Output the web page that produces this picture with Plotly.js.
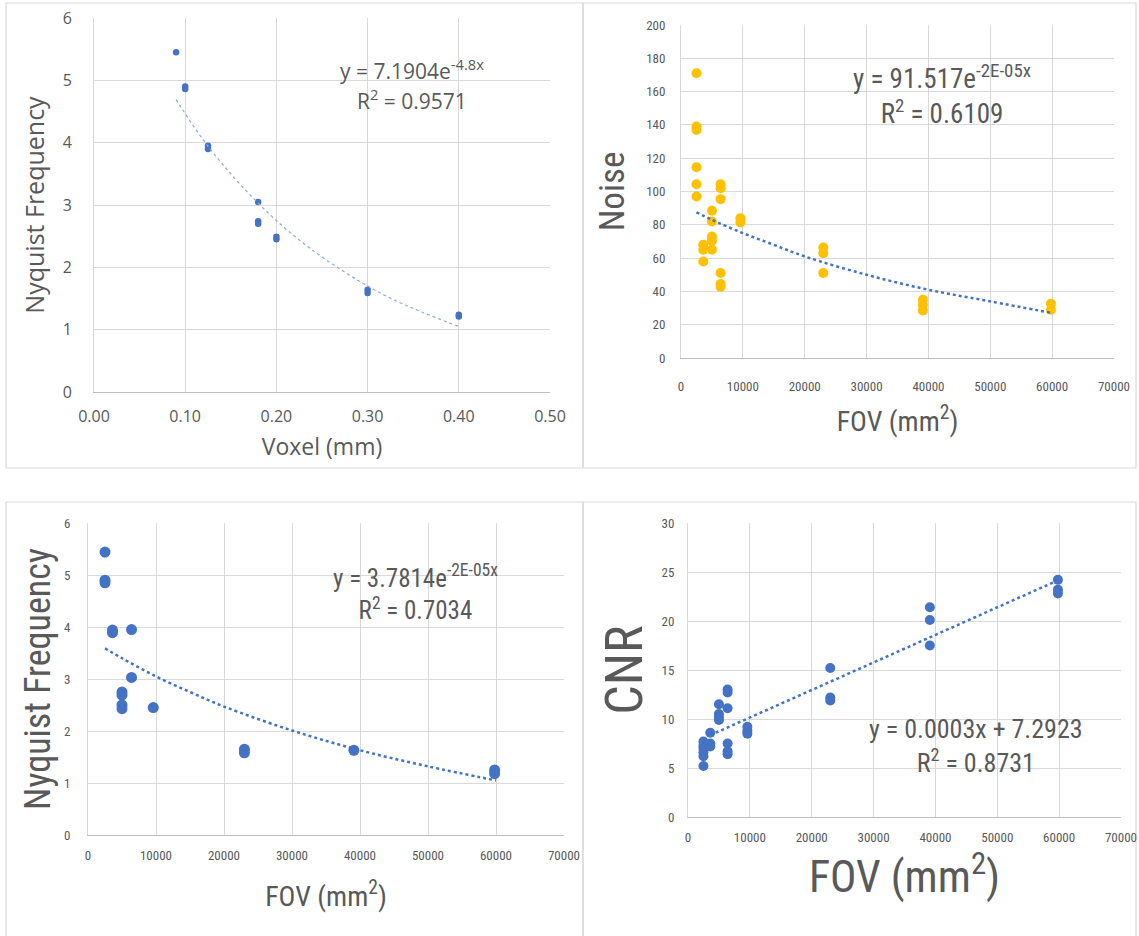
<!DOCTYPE html>
<html>
<head>
<meta charset="utf-8">
<script src="https://cdn.plot.ly/plotly-3.0.1.min.js"></script>
<style>
  html, body { margin: 0; padding: 0; background: #ffffff; }
  #chart { width: 1139px; height: 936px; }
</style>
</head>
<body>
<div id="chart"></div>
<script>
// ---------- Panel A: Nyquist Frequency vs Voxel ----------
const voxelX      = [0.09, 0.10, 0.10, 0.125, 0.125, 0.18, 0.18, 0.18, 0.20, 0.20, 0.30, 0.30, 0.40, 0.40];
const voxelNyq    = [5.45, 4.90, 4.86, 3.95, 3.90, 3.05, 2.74, 2.70, 2.49, 2.45, 1.64, 1.59, 1.24, 1.21];
const voxelTrendX = [0.09, 0.12, 0.15, 0.18, 0.21, 0.24, 0.27, 0.30, 0.33, 0.36, 0.40];
const voxelTrendY = [4.69, 4.04, 3.50, 3.03, 2.62, 2.27, 1.97, 1.70, 1.47, 1.28, 1.05];

// ---------- Panel B: Noise vs FOV ----------
const noiseFov = [2500, 2500, 2500, 2500, 2500, 2500,
                  3600, 3600, 3600,
                  5000, 5000, 5000, 5000, 5000,
                  6400, 6400, 6400, 6400, 6400, 6400,
                  9600, 9600,
                  23000, 23000, 23000,
                  39100, 39100, 39100,
                  59800, 59800];
const noiseVal = [171, 139, 137, 114.6, 104.4, 97,
                  68, 65, 58,
                  88.4, 82, 73, 70.5, 65,
                  104.4, 102, 95.4, 51, 44.4, 42.8,
                  84, 81.4,
                  66.4, 63, 51,
                  35, 32, 28.6,
                  32.6, 29];
const noiseTrendX = [2500, 5000, 10000, 15000, 20000, 30000, 40000, 50000, 60000];
const noiseTrendY = [87.5, 83, 75, 68, 61, 50, 41, 34, 27];

// ---------- Panel C: Nyquist Frequency vs FOV ----------
const nyqFov = [2500, 2500, 2500, 3600, 3600, 6400, 6400, 5000, 5000, 5000, 5000,
                9600, 23000, 23000, 39100, 59800, 59800];
const nyqVal = [5.44, 4.90, 4.85, 3.94, 3.89, 3.95, 3.03, 2.75, 2.69, 2.50, 2.43,
                2.45, 1.65, 1.58, 1.63, 1.25, 1.18];
const nyqTrendX = [2500, 5000, 10000, 15000, 20000, 30000, 40000, 50000, 60000];
const nyqTrendY = [3.59, 3.40, 3.05, 2.75, 2.47, 2.01, 1.63, 1.32, 1.05];

// ---------- Panel D: CNR vs FOV ----------
const cnrFov = [2500, 2500, 2500, 2500, 2500, 2500,
                3600, 3600, 3600,
                5000, 5000, 5000, 5000,
                6400, 6400, 6400, 6400, 6400, 6400,
                9600, 9600, 9600,
                23000, 23000, 23000,
                39100, 39100, 39100,
                59800, 59800, 59800];
const cnrVal = [7.7, 7.3, 7.0, 6.6, 6.2, 5.2,
                8.6, 7.5, 7.2,
                11.5, 10.5, 10.2, 9.9,
                13.0, 12.7, 11.1, 7.5, 6.7, 6.4,
                9.2, 8.8, 8.5,
                15.2, 12.2, 11.9,
                21.4, 20.1, 17.5,
                24.2, 23.2, 22.8];
const cnrTrendX = [3600, 59800];
const cnrTrendY = [8.35, 24.15];

// ---------- text ----------
const eqA = ["y = 7.1904e<sup>-4.8x</sup>", "R<sup>2</sup> = 0.9571"];
const eqB = "y = 91.517e<sup>-2E-05x</sup><br>R<sup>2</sup> = 0.6109";
const eqC = "y = 3.7814e<sup>-2E-05x</sup><br>R<sup>2</sup> = 0.7034";
const eqD = "y = 0.0003x + 7.2923<br>R<sup>2</sup> = 0.8731";

// ---------- styling ----------
const W = 1139, H = 936;
const BLUE = "#4472C4", GOLD = "#FFC000", GREY = "#595959";
const GRID = "#d9d9d9", AXIS = "#bfbfbf";
const WIDE = "'Open Sans', 'DejaVu Sans', sans-serif";
const NARROW = "'Liberation Sans Narrow', 'Roboto Condensed', Lato, 'Liberation Sans', sans-serif";

function px(x) { return x / W; }
function py(y) { return 1 - y / H; }

function axisX(anchor, domainPx, range, dtick, fmt, tfont, title, tsize, standoff, family, labelOff) {
  return {
    anchor: anchor,
    domain: [px(domainPx[0]), px(domainPx[1])],
    range: range, dtick: dtick, tick0: 0, tickformat: fmt,
    showgrid: true, gridcolor: GRID, gridwidth: 1,
    zeroline: false, showline: true, linecolor: AXIS, linewidth: 1,
    ticks: "", ticklabelstandoff: labelOff,
    tickfont: { family: family, size: tfont, color: GREY },
    title: { text: title, font: { family: family, size: tsize, color: GREY }, standoff: standoff },
    fixedrange: true, automargin: false
  };
}
function axisY(anchor, domainPx, range, dtick, tfont, title, tsize, standoff, family, labelOff) {
  return {
    anchor: anchor,
    domain: [py(domainPx[1]), py(domainPx[0])],
    range: range, dtick: dtick, tick0: 0,
    showgrid: true, gridcolor: GRID, gridwidth: 1,
    zeroline: false, showline: true, linecolor: GRID, linewidth: 1, mirror: false,
    ticks: "", ticklabelstandoff: labelOff,
    tickfont: { family: family, size: tfont, color: GREY },
    title: { text: title, font: { family: family, size: tsize, color: GREY }, standoff: standoff },
    fixedrange: true, automargin: false
  };
}

const traces = [
  { x: voxelX, y: voxelNyq, xaxis: "x", yaxis: "y", type: "scatter", mode: "markers",
    marker: { color: BLUE, size: 6.5 } },
  { x: voxelTrendX, y: voxelTrendY, xaxis: "x", yaxis: "y", type: "scatter", mode: "lines",
    line: { color: "#8faadc", width: 1.2, dash: "dot", shape: "spline" } },

  { x: noiseFov, y: noiseVal, xaxis: "x2", yaxis: "y2", type: "scatter", mode: "markers",
    marker: { color: GOLD, size: 10 } },
  { x: noiseTrendX, y: noiseTrendY, xaxis: "x2", yaxis: "y2", type: "scatter", mode: "lines",
    line: { color: BLUE, width: 2.5, dash: "dot", shape: "spline" } },

  { x: nyqFov, y: nyqVal, xaxis: "x3", yaxis: "y3", type: "scatter", mode: "markers",
    marker: { color: BLUE, size: 11 } },
  { x: nyqTrendX, y: nyqTrendY, xaxis: "x3", yaxis: "y3", type: "scatter", mode: "lines",
    line: { color: BLUE, width: 2.5, dash: "dot", shape: "spline" } },

  { x: cnrFov, y: cnrVal, xaxis: "x4", yaxis: "y4", type: "scatter", mode: "markers",
    marker: { color: BLUE, size: 10 } },
  { x: cnrTrendX, y: cnrTrendY, xaxis: "x4", yaxis: "y4", type: "scatter", mode: "lines",
    line: { color: BLUE, width: 2.5, dash: "dot" } }
];

function eqAnn(text, cx, cy, size, family) {
  return { text: text, xref: "paper", yref: "paper", x: px(cx), y: py(cy),
           xanchor: "center", yanchor: "middle", align: "center", showarrow: false,
           font: { family: family, size: size, color: GREY } };
}

function box(x0, y0, x1, y1) {
  return { type: "rect", xref: "paper", yref: "paper",
           x0: px(x0), x1: px(x1), y0: py(y1), y1: py(y0),
           line: { color: GRID, width: 1.2 }, fillcolor: "rgba(0,0,0,0)", layer: "below" };
}

const layout = {
  width: W, height: H,
  margin: { l: 0, r: 0, t: 0, b: 0 },
  paper_bgcolor: "#ffffff", plot_bgcolor: "#ffffff",
  showlegend: false,
  xaxis:  axisX("y",  [94, 550], [0, 0.5], 0.1, ".2f", 16, "Voxel (mm)", 23, 12, WIDE, 10),
  yaxis:  axisY("x",  [18, 392], [0, 6], 1, 16, "Nyquist Frequency", 25, 10, WIDE, 18),
  xaxis2: axisX("y2", [681, 1114], [0, 70000], 10000, "d", 13, "FOV (mm<sup>2</sup>)", 28, 18, NARROW, 16),
  yaxis2: axisY("x2", [25, 358], [0, 200], 20, 13, "Noise", 35, 10, NARROW, 12),
  xaxis3: axisX("y3", [88, 564], [0, 70000], 10000, "d", 13, "FOV (mm<sup>2</sup>)", 28, 24, NARROW, 8),
  yaxis3: axisY("x3", [523, 835], [0, 6], 1, 13, "Nyquist Frequency", 36, 2, NARROW, 14),
  xaxis4: axisX("y4", [688, 1121], [0, 70000], 10000, "d", 13, "FOV (mm<sup>2</sup>)", 44, 12, NARROW, 8),
  yaxis4: axisY("x4", [523, 817], [0, 30], 5, 13, "CNR", 52, 2, NARROW, 10),
  shapes: [
    box(6, 3, 583, 468),
    box(583, 3, 1136, 468),
    box(6, 502, 583, 940),
    box(583, 502, 1136, 940)
  ],
  annotations: [
    eqAnn(eqA[0], 412, 70, 21, WIDE),
    eqAnn(eqA[1], 412, 100, 21, WIDE),
    eqAnn(eqB, 942, 95, 27, NARROW),
    eqAnn(eqC, 415, 592, 25, NARROW),
    eqAnn(eqD, 976, 746, 26, NARROW)
  ]
};

Plotly.newPlot("chart", traces, layout, { displayModeBar: false, staticPlot: true });
</script>
</body>
</html>
